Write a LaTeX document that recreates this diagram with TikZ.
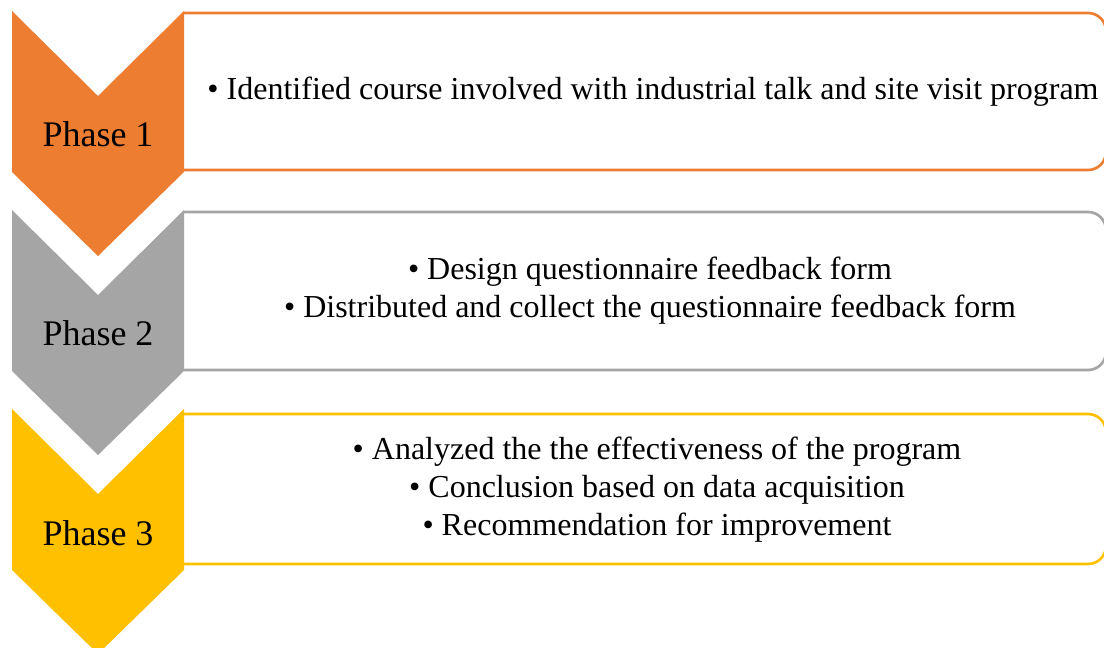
\documentclass[tikz,border=0pt]{standalone}
\usepackage{fontspec}
\setmainfont{Liberation Serif}
\usepackage{xcolor}

\definecolor{phaseorange}{RGB}{237,125,49}
\definecolor{phasegray}{RGB}{165,165,165}
\definecolor{phasegold}{RGB}{255,192,0}

\tikzset{
  phaselabel/.style={inner sep=0.75pt, font=\fontsize{27}{32}\selectfont},
  itemtext/.style={inner sep=0.75pt, align=center, font=\fontsize{24}{28.6}\selectfont},
  itembox/.style={line width=2pt, rounded corners=13.5pt}
}

\begin{document}
\begin{tikzpicture}[x=0.75pt,y=0.75pt,yscale=-1,xscale=1]
\useasboundingbox (0,0) rectangle (1104,648);

%Shape: Box, phase 1
\draw [itembox, color=phaseorange] (184,13) -- (1106,13) -- (1106,170) -- (184,170) ;
%Shape: Box, phase 2
\draw [itembox, color=phasegray] (184,212) -- (1106,212) -- (1106,370) -- (184,370) ;
%Shape: Box, phase 3
\draw [itembox, color=phasegold] (184,414) -- (1106,414) -- (1106,564) -- (184,564) ;

%Shape: Chevron, phase 1
\fill [phaseorange] (12,11) -- (98,96) -- (184,11) -- (184,172) -- (98,256) -- (12,172) -- cycle ;
%Shape: Chevron, phase 2
\fill [phasegray] (12,210) -- (98,295) -- (184,210) -- (184,371) -- (98,455) -- (12,371) -- cycle ;
%Shape: Chevron, phase 3
\fill [phasegold] (12,409) -- (98,494) -- (184,409) -- (184,570) -- (98,654) -- (12,570) -- cycle ;

% Text Node
\node [phaselabel] (phaseone) at (98,134) {Phase 1};
% Text Node
\node [phaselabel] (phasetwo) at (98,333) {Phase 2};
% Text Node
\node [phaselabel] (phasethree) at (98,533) {Phase 3};

% Text Node
\node [itemtext] (stepsone) at (653,92) {\textbullet\ Identified course involved with industrial talk and site visit program};
% Text Node
\node [itemtext] (stepstwo) at (650,291) {\textbullet\ Design questionnaire feedback form\\\textbullet\ Distributed and collect the questionnaire feedback form};
% Text Node
\node [itemtext] (stepsthree) at (657,490) {\textbullet\ Analyzed the the effectiveness of the program\\\textbullet\ Conclusion based on data acquisition\\\textbullet\ Recommendation for improvement};

\end{tikzpicture}
\end{document}
